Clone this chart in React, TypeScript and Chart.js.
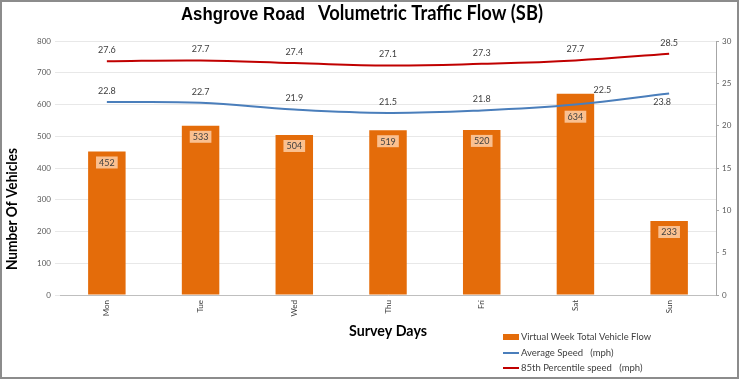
import React, { useEffect, useRef } from "react";
import { Chart, registerables } from "chart.js";

Chart.register(...registerables);

const TITLE_A = "Ashgrove Road";
const TITLE_B = "Volumetric Traffic Flow (SB)";
const Y_TITLE = "Number Of Vehicles";
const X_TITLE = "Survey Days";
const DAYS = ["Mon", "Tue", "Wed", "Thu", "Fri", "Sat", "Sun"];
const FLOW = [452, 533, 504, 519, 520, 634, 233];
const AVG_SPEED = [22.8, 22.7, 21.9, 21.5, 21.8, 22.5, 23.8];
const P85_SPEED = [27.6, 27.7, 27.4, 27.1, 27.3, 27.7, 28.5];
const FLOW_LABEL = "Virtual Week Total Vehicle Flow";
const AVG_LABEL = "Average Speed   (mph)";
const P85_LABEL = "85th Percentile speed   (mph)";

const ORANGE = "#E46C0A";
const BLUE = "#4A7EBB";
const RED = "#C00000";
const CAL = "Lato, 'Open Sans', sans-serif";

const decorPlugin = {
  id: "decor",
  afterDatasetsDraw(chart: any) {
    const ctx = chart.ctx as CanvasRenderingContext2D;
    ctx.save();
    // bar labels
    const barMeta = chart.getDatasetMeta(0);
    barMeta.data.forEach((el: any, i: number) => {
      const v = chart.data.datasets[0].data[i];
      const txt = String(v);
      const off = i === 5 ? 23 : 11;
      const cy = el.y + off;
      ctx.font = `9px ${CAL}`;
      const w = ctx.measureText(txt).width + 6;
      ctx.fillStyle = "#FAC090";
      ctx.fillRect(el.x - w / 2, cy - 6, w, 12);
      ctx.fillStyle = "#404040";
      ctx.textAlign = "center";
      ctx.textBaseline = "middle";
      ctx.fillText(txt, el.x, cy + 0.5);
    });
    // line labels
    [1, 2].forEach((di) => {
      const meta = chart.getDatasetMeta(di);
      meta.data.forEach((el: any, i: number) => {
        const v = chart.data.datasets[di].data[i];
        let dx = 0;
        let dy = -11;
        if (di === 1 && i === 5) { dx = 27; dy = -14; }
        if (di === 1 && i === 6) { dx = -7; dy = 9; }
        ctx.font = `9px ${CAL}`;
        ctx.fillStyle = "#404040";
        ctx.textAlign = "center";
        ctx.textBaseline = "middle";
        ctx.fillText(Number(v).toFixed(1), el.x + dx, el.y + dy);
      });
    });
    ctx.restore();
  },
  afterDraw(chart: any) {
    const ctx = chart.ctx as CanvasRenderingContext2D;
    const ca = chart.chartArea;
    ctx.save();
    // title
    ctx.fillStyle = "#000";
    ctx.textBaseline = "alphabetic";
    ctx.textAlign = "left";
    ctx.font = "bold 18px 'Liberation Sans', Arial, sans-serif";
    ctx.fillText(TITLE_A, 179, 18, 124);
    ctx.font = `bold 20px ${CAL}`;
    ctx.fillText(TITLE_B, 316, 18, 225);
    // x title
    ctx.textAlign = "center";
    ctx.textBaseline = "middle";
    ctx.font = `bold 15px ${CAL}`;
    ctx.fillText(X_TITLE, (ca.left + ca.right) / 2, 329, 78);
    // y title
    ctx.save();
    ctx.translate(10, 207);
    ctx.rotate(-Math.PI / 2);
    ctx.fillText(Y_TITLE, 0, 0, 122);
    ctx.restore();
    // legend
    const ds = chart.data.datasets;
    ctx.textAlign = "left";
    ctx.font = `9.5px ${CAL}`;
    const lx = 501;
    const rows = [332 + 3, 351, 366];
    ctx.fillStyle = ds[0].backgroundColor;
    ctx.fillRect(lx, 332, 16, 6);
    ctx.lineWidth = 2;
    ctx.strokeStyle = ds[1].borderColor;
    ctx.beginPath(); ctx.moveTo(lx, rows[1]); ctx.lineTo(lx + 16, rows[1]); ctx.stroke();
    ctx.strokeStyle = ds[2].borderColor;
    ctx.beginPath(); ctx.moveTo(lx, rows[2]); ctx.lineTo(lx + 16, rows[2]); ctx.stroke();
    ctx.fillStyle = "#404040";
    ds.forEach((d: any, i: number) => {
      ctx.fillText(d.label, lx + 18, rows[i], i === 0 ? 130 : 200);
    });
    ctx.restore();
  },
};

export default function App() {
  const ref = useRef<HTMLCanvasElement | null>(null);
  useEffect(() => {
    document.body.style.margin = "0";
    if (!ref.current) return;
    const chart = new Chart(ref.current, {
      type: "bar",
      data: {
        labels: DAYS,
        datasets: [
          {
            type: "bar",
            label: FLOW_LABEL,
            data: FLOW,
            backgroundColor: ORANGE,
            borderColor: ORANGE,
            barPercentage: 0.4,
            categoryPercentage: 1,
            yAxisID: "y",
            order: 3,
          },
          {
            type: "line",
            label: AVG_LABEL,
            data: AVG_SPEED,
            borderColor: BLUE,
            backgroundColor: BLUE,
            borderWidth: 2,
            pointRadius: 0,
            tension: 0.4,
            yAxisID: "y1",
            order: 1,
          },
          {
            type: "line",
            label: P85_LABEL,
            data: P85_SPEED,
            borderColor: RED,
            backgroundColor: RED,
            borderWidth: 2,
            pointRadius: 0,
            tension: 0.4,
            yAxisID: "y1",
            order: 2,
          },
        ] as any,
      },
      options: {
        responsive: false,
        animation: false,
        layout: { padding: { left: 28, right: 1, top: 39, bottom: 52 } },
        plugins: { legend: { display: false }, tooltip: { enabled: false }, title: { display: false } },
        scales: {
          x: {
            grid: { drawOnChartArea: false, drawTicks: false },
            border: { display: true, color: "#BFBFBF" },
            ticks: {
              minRotation: 90,
              maxRotation: 90,
              padding: 5,
              color: "#404040",
              font: { size: 8, family: CAL },
            },
            afterFit: (s: any) => { s.height = 30; },
          },
          y: {
            position: "left",
            min: 0,
            max: 800,
            ticks: { stepSize: 100, color: "#595959", font: { size: 8, family: CAL }, padding: 4 },
            grid: { color: "#E8E8E8", tickLength: 5 },
            border: { display: false },
            afterFit: (s: any) => { s.width = 30; },
          },
          y1: {
            position: "right",
            min: 0,
            max: 30,
            ticks: { stepSize: 5, color: "#595959", font: { size: 8, family: CAL }, padding: 3 },
            grid: { drawOnChartArea: false, color: "#A6A6A6", tickLength: 3 },
            border: { display: true, color: "#A6A6A6" },
            afterFit: (s: any) => { s.width = 20; },
          },
        },
      },
      plugins: [decorPlugin],
    });
    return () => chart.destroy();
  }, []);
  return (
    <div
      style={{
        width: 739,
        height: 379,
        boxSizing: "border-box",
        border: "2px solid #8C8C8C",
        background: "#fff",
      }}
    >
      <canvas ref={ref} width={735} height={375} style={{ display: "block", width: 735, height: 375 }} />
    </div>
  );
}
